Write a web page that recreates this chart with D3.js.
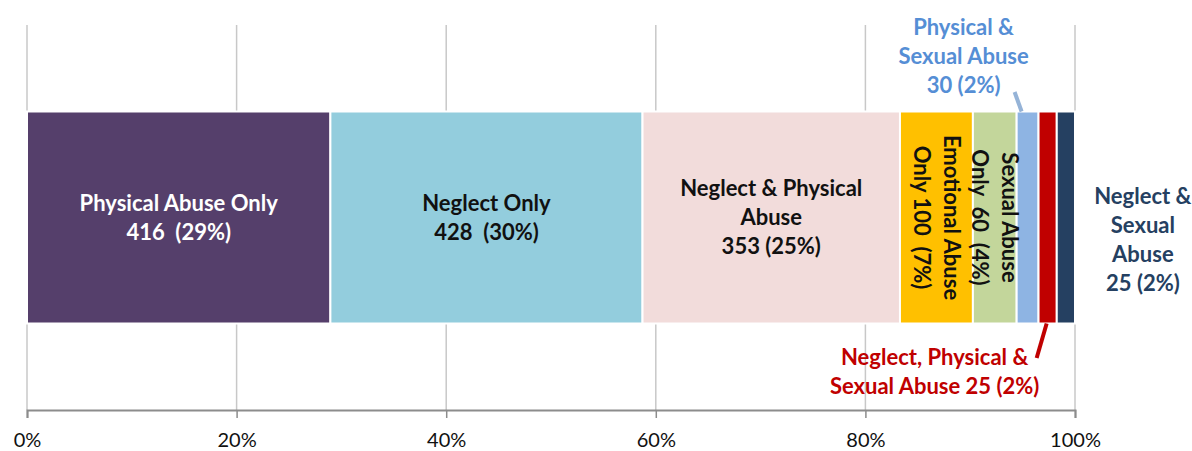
<!DOCTYPE html>
<html>
<head>
<meta charset="utf-8">
<script src="https://cdn.jsdelivr.net/npm/d3@7"></script>
<style>
  body { margin: 0; background: #fff; }
  svg { display: block; font-family: Lato, "Open Sans", sans-serif; }
  text { white-space: pre; }
</style>
</head>
<body>
<svg id="chart" width="1192" height="451"></svg>
<script>
// data
var categories = [
  "Physical Abuse Only",
  "Neglect Only",
  "Neglect & Physical Abuse",
  "Emotional Abuse Only",
  "Sexual Abuse Only",
  "Physical & Sexual Abuse",
  "Neglect, Physical & Sexual Abuse",
  "Neglect & Sexual Abuse"
];
var counts = [416, 428, 353, 100, 60, 30, 25, 25];
var labelLines = [
  ["Physical Abuse Only", "416  (29%)"],
  ["Neglect Only", "428  (30%)"],
  ["Neglect & Physical", "Abuse", "353 (25%)"],
  ["Emotional Abuse", "Only 100  (7%)"],
  ["Sexual Abuse", "Only  60  (4%)"],
  ["Physical &", "Sexual Abuse", "30 (2%)"],
  ["Neglect, Physical &", "Sexual Abuse 25 (2%)"],
  ["Neglect &", "Sexual", "Abuse", "25 (2%)"]
];
var colors = ["#553F6B", "#93CDDD", "#F2DCDB", "#FFC000", "#C3D69B", "#8EB4E3", "#C00000", "#254061"];
var tickValues = [0, 0.2, 0.4, 0.6, 0.8, 1];

var svg = d3.select("#chart");

var total = d3.sum(counts);
var rows = [{}];
categories.forEach(function(c, i){ rows[0][c] = counts[i] / total; });
var series = d3.stack().keys(categories)(rows);

var x = d3.scaleLinear().domain([0, 1]).range([27, 1075]);
var y = d3.scaleBand().domain(["All"]).range([25, 410]).paddingOuter(0.408).paddingInner(0);

// gridlines
svg.append("g")
  .selectAll("line")
  .data(tickValues)
  .join("line")
  .attr("x1", function(d){ return x(d); })
  .attr("x2", function(d){ return x(d); })
  .attr("y1", 25)
  .attr("y2", 410)
  .attr("stroke", "#c8c8c8")
  .attr("stroke-width", 1.5);

// axis
var axis = svg.append("g")
  .attr("transform", "translate(0,410)")
  .call(d3.axisBottom(x).tickValues(tickValues).tickFormat(d3.format(".0%")).tickSize(8).tickPadding(15));
axis.select(".domain").attr("stroke", "#8c8c8c").attr("stroke-width", 2);
axis.selectAll(".tick line").attr("stroke", "#8c8c8c").attr("stroke-width", 1.5);
axis.selectAll(".tick text")
  .attr("font-family", "Lato, sans-serif")
  .attr("font-size", 20)
  .attr("fill", "#111");

// bars
var y0 = y("All"), bh = y.bandwidth(), yc = y0 + bh / 2;
svg.append("g")
  .selectAll("rect")
  .data(series)
  .join("rect")
  .attr("x", function(s){ return x(s[0][0]); })
  .attr("y", y0)
  .attr("width", function(s){ return x(s[0][1]) - x(s[0][0]); })
  .attr("height", bh)
  .attr("fill", function(s, i){ return colors[i]; })
  .attr("stroke", "#fff")
  .attr("stroke-width", 2);

function mid(i){ return (x(series[i][0][0]) + x(series[i][0][1])) / 2; }

function writeLines(g, lines, lh){
  var n = lines.length;
  g.selectAll("tspan")
    .data(lines)
    .join("tspan")
    .attr("x", 0)
    .attr("y", function(d, k){ return (k - (n - 1) / 2) * lh; })
    .attr("dy", "0.35em")
    .text(function(d){ return d; });
}

var fs = 22, lh = 29;

// labels inside the wide segments
[0, 1, 2].forEach(function(i){
  var t = svg.append("text")
    .attr("transform", "translate(" + mid(i) + "," + yc + ")")
    .attr("text-anchor", "middle")
    .attr("font-size", fs)
    .attr("font-weight", "bold")
    .attr("fill", i === 0 ? "#fff" : "#111");
  writeLines(t, labelLines[i], lh);
});

// rotated labels in the narrow segments
[3, 4].forEach(function(i){
  var t = svg.append("text")
    .attr("transform", "translate(" + mid(i) + "," + yc + ") rotate(90)")
    .attr("text-anchor", "middle")
    .attr("font-size", fs)
    .attr("font-weight", "bold")
    .attr("fill", "#111");
  writeLines(t, labelLines[i], 30);
});

// outside labels
var outside = [
  { i: 5, tx: mid(5) - 64, ty: 56, color: "#558ED5", lead: [[mid(5) - 13, 92], [mid(5) - 6, y0]], leadColor: "#95B3D7" },
  { i: 6, tx: mid(6) - 113, ty: 372, color: "#C00000", lead: [[mid(6) - 11, 358], [mid(6) - 1, y0 + bh]], leadColor: "#C00000" },
  { i: 7, tx: mid(7) + 77, ty: 240, color: "#254061", lead: null }
];
outside.forEach(function(o){
  if(o.lead){
    svg.append("path")
      .attr("d", d3.line()(o.lead))
      .attr("stroke", o.leadColor)
      .attr("stroke-width", 4)
      .attr("fill", "none");
  }
  var t = svg.append("text")
    .attr("transform", "translate(" + o.tx + "," + o.ty + ")")
    .attr("text-anchor", "middle")
    .attr("font-size", fs)
    .attr("font-weight", "bold")
    .attr("fill", o.color);
  writeLines(t, labelLines[o.i], lh);
});
</script>
</body>
</html>
